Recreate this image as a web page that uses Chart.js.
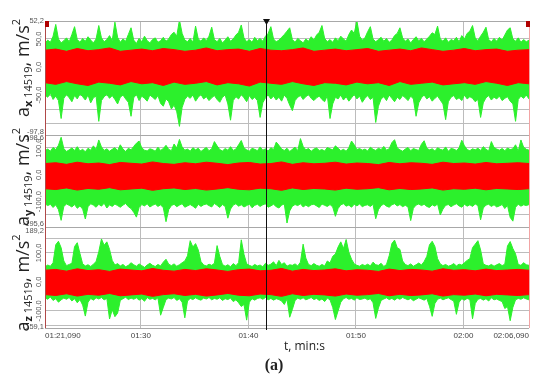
<!DOCTYPE html>
<html>
<head>
<meta charset="utf-8">
<script src="https://cdn.jsdelivr.net/npm/chart.js@4.4.1/dist/chart.umd.min.js"></script>
<style>
  html, body { margin: 0; padding: 0; background: #fff; }
  #wrap { position: relative; width: 550px; height: 382px; }
  #wrap canvas { position: absolute; left: 0; top: 0; }
</style>
</head>
<body>
<div id="wrap">
  <canvas id="c0" width="550" height="382"></canvas>
  <canvas id="c1" width="550" height="382"></canvas>
  <canvas id="c2" width="550" height="382"></canvas>
</div>
<script>
// time span of the record, seconds (01:21,090 .. 02:06,090)
const tStart = 81.09;
const tEnd = 126.09;
const timeTicks = [81.09, 90, 100, 110, 120, 126.09];
const cursorTime = 101.62;

// envelopes, m/s^2 (green = raw signal, red = filtered)
const axGreenHi = [42, 48, 44, 55, 76, 50, 43, 47, 52, 45, 58, 72, 49, 44, 51, 46, 54, 48, 43, 50,
  74, 52, 45, 49, 56, 47, 80, 53, 44, 50, 46, 58, 70, 48, 42, 51, 45, 55, 47, 43,
  49, 52, 44, 47, 53, 46, 50, 58, 62, 55, 84, 60, 48, 45, 51, 44, 73, 50, 46, 52,
  47, 55, 71, 49, 45, 51, 43, 48, 54, 46, 50, 57, 62, 75, 52, 45, 49, 44, 53, 47,
  51, 46, 55, 60, 72, 50, 45, 48, 53, 58, 64, 70, 49, 44, 51, 47, 43, 50, 46, 54,
  48, 57, 62, 74, 51, 45, 49, 44, 52, 47, 55, 50, 46, 58, 66, 60, 82, 55, 48, 52,
  63, 72, 50, 45, 49, 53, 46, 51, 44, 48, 56, 60, 70, 52, 46, 50, 43, 49, 54, 47,
  51, 45, 50, 55, 61, 58, 73, 50, 46, 52, 44, 49, 47, 53, 45, 56, 50, 60, 64, 74,
  52, 47, 55, 62, 71, 49, 45, 51, 46, 53, 48, 57, 66, 70, 50, 46, 52, 44, 49, 45, 48];
const axGreenLo = [-50, -54, -47, -58, -52, -60, -92, -56, -49, -55, -62, -51, -57, -48, -53, -59, -50, -64, -55, -52,
  -97, -60, -53, -49, -56, -51, -58, -66, -54, -50, -57, -63, -88, -55, -49, -60, -52, -56, -61, -50,
  -54, -58, -51, -65, -70, -57, -62, -75, -68, -80, -106, -72, -58, -52, -56, -50, -61, -54, -49, -57,
  -53, -60, -55, -51, -58, -63, -54, -50, -66, -95, -60, -53, -57, -49, -55, -62, -51, -58, -54, -60,
  -90, -64, -55, -50, -57, -52, -59, -54, -61, -50, -56, -68, -78, -60, -54, -51, -58, -53, -49, -56,
  -60, -55, -52, -58, -62, -51, -92, -66, -54, -57, -50, -59, -53, -61, -55, -49, -57, -52, -63, -56,
  -51, -58, -54, -99, -70, -57, -53, -60, -50, -56, -62, -54, -58, -51, -55, -60, -52, -57, -88, -64,
  -55, -50, -57, -53, -61, -56, -52, -59, -66, -94, -62, -54, -51, -58, -55, -60, -50, -57, -53, -56,
  -62, -58, -90, -64, -55, -51, -59, -54, -57, -52, -60, -56, -53, -61, -66, -97, -58, -52, -56, -50, -57];
const axRedHi = [30, 32, 28, 33, 29, 31, 34, 28, 30, 32, 29, 33, 31, 28, 30, 34, 29, 31, 32, 28,
  33, 30, 29, 31, 34, 28, 30, 32, 29, 31, 33, 28, 30, 32, 29, 34, 31, 28, 30, 33,
  29, 31, 32, 28, 30, 31];
const axRedLo = [-28, -31, -26, -30, -33, -27, -29, -32, -26, -30, -28, -33, -27, -31, -29, -26, -32, -28, -30, -34,
  -27, -29, -31, -26, -30, -33, -28, -29, -32, -27, -30, -28, -33, -26, -31, -29, -27, -32, -30, -28,
  -31, -26, -29, -33, -28, -30];

const ayGreenHi = [90, 96, 88, 102, 94, 110, 140, 98, 87, 93, 100, 91, 105, 89, 95, 86, 99, 92, 108, 94,
  130, 104, 91, 97, 88, 95, 101, 90, 112, 96, 87, 99, 93, 106, 118, 126, 100, 92, 89, 97,
  94, 88, 103, 91, 98, 110, 95, 90, 115, 100, 132, 104, 92, 96, 88, 101, 93, 99, 87, 95,
  102, 90, 97, 124, 108, 94, 89, 98, 92, 105, 91, 96, 112, 128, 100, 93, 88, 99, 95, 90,
  104, 92, 97, 89, 101, 94, 122, 110, 96, 91, 99, 87, 95, 103, 90, 135, 106, 93, 98, 88,
  96, 100, 91, 94, 89, 102, 97, 93, 108, 99, 90, 95, 88, 101, 126, 112, 94, 98, 92, 96,
  89, 103, 95, 91, 99, 94, 106, 92, 97, 120, 131, 100, 93, 88, 96, 102, 90, 98, 94, 91,
  114, 127, 99, 93, 97, 89, 101, 95, 92, 104, 88, 98, 96, 91, 100, 129, 108, 94, 90, 97,
  93, 99, 91, 105, 95, 89, 124, 102, 96, 92, 98, 90, 100, 94, 97, 112, 88, 130, 103, 95, 92];
const ayGreenLo = [-108, -115, -110, -122, -112, -130, -170, -118, -109, -114, -120, -111, -125, -116, -128, -165, -119, -108, -113, -121,
  -110, -117, -106, -124, -112, -118, -109, -115, -121, -113, -107, -119, -126, -140, -158, -122, -111, -116, -108, -120,
  -114, -109, -118, -112, -123, -175, -130, -115, -110, -119, -113, -108, -121, -116, -111, -117, -125, -110, -118, -112,
  -109, -115, -120, -107, -114, -122, -111, -118, -162, -128, -113, -108, -117, -112, -120, -115, -109, -123, -114, -110,
  -118, -112, -108, -121, -116, -110, -119, -124, -113, -109, -180, -135, -117, -111, -115, -108, -120, -113, -119, -112,
  -110, -116, -122, -109, -114, -118, -111, -120, -155, -126, -112, -108, -117, -113, -121, -110, -116, -109, -119, -114,
  -112, -118, -110, -164, -130, -115, -109, -117, -121, -112, -108, -116, -111, -119, -114, -120, -171, -125, -113, -109,
  -115, -110, -118, -122, -112, -117, -109, -150, -128, -114, -111, -119, -113, -108, -116, -121, -110, -117, -112, -118,
  -109, -115, -168, -124, -113, -110, -118, -112, -120, -116, -111, -126, -114, -159, -173, -121, -110, -117, -112, -115, -111];
const ayRedHi = [42, 45, 39, 47, 41, 44, 38, 46, 43, 40, 48, 42, 39, 45, 41, 47, 43, 38, 44, 46,
  40, 42, 48, 39, 45, 41, 43, 47, 40, 44, 42, 38, 46, 41, 45, 43, 39, 47, 42, 44,
  40, 46, 41, 43, 45, 42];
const ayRedLo = [-52, -55, -49, -57, -51, -54, -48, -56, -53, -50, -58, -52, -49, -55, -51, -57, -53, -48, -54, -56,
  -50, -52, -58, -49, -55, -51, -53, -57, -50, -54, -52, -48, -56, -51, -55, -53, -49, -57, -52, -54,
  -50, -56, -51, -53, -55, -52];

const azGreenHi = [52, 58, 54, 66, 128, 140, 118, 72, 56, 60, 64, 122, 135, 98, 62, 55, 59, 53, 61, 70,
  104, 148, 126, 138, 112, 74, 58, 63, 55, 60, 52, 57, 66, 59, 54, 62, 56, 50, 58, 64,
  57, 53, 60, 55, 68, 78, 61, 56, 62, 54, 59, 66, 72, 90, 142, 120, 132, 110, 70, 58,
  55, 61, 57, 64, 125, 88, 60, 54, 59, 52, 63, 56, 66, 145, 95, 62, 57, 53, 60, 55,
  58, 52, 64, 57, 61, 69, 56, 74, 60, 66, 54, 59, 57, 62, 55, 68, 130, 82, 60, 56,
  63, 57, 54, 60, 55, 72, 65, 88, 96, 120, 138, 115, 146, 102, 78, 62, 57, 54, 60, 56,
  61, 55, 68, 59, 57, 64, 53, 60, 90, 132, 144, 118, 112, 72, 60, 56, 62, 54, 59, 65,
  58, 70, 88, 128, 140, 122, 80, 62, 56, 60, 54, 57, 63, 55, 61, 58, 66, 74, 80, 118,
  130, 142, 110, 62, 57, 55, 60, 54, 59, 63, 56, 61, 124, 139, 115, 96, 60, 57, 66, 59, 57];
const azGreenLo = [-55, -60, -52, -64, -58, -70, -62, -56, -60, -54, -66, -58, -72, -61, -80, -118, -70, -57, -63, -55,
  -59, -54, -62, -57, -128, -96, -120, -108, -64, -58, -53, -61, -56, -60, -55, -63, -58, -67, -54, -60,
  -57, -62, -55, -115, -88, -61, -56, -59, -54, -64, -58, -70, -124, -66, -57, -61, -55, -60, -63, -56,
  -59, -54, -62, -57, -60, -55, -64, -58, -61, -56, -68, -62, -72, -85, -78, -132, -70, -58, -63, -57,
  -55, -60, -54, -62, -57, -63, -58, -61, -66, -78, -59, -122, -95, -64, -56, -60, -55, -62, -58, -54,
  -61, -57, -64, -59, -68, -56, -62, -88, -130, -100, -70, -58, -54, -60, -57, -63, -55, -61, -59, -56,
  -62, -58, -72, -126, -90, -64, -59, -55, -61, -57, -63, -56, -60, -54, -58, -62, -57, -65, -60, -55,
  -59, -63, -57, -84, -119, -75, -60, -56, -62, -58, -55, -61, -66, -112, -70, -58, -63, -57, -61, -127,
  -75, -60, -57, -63, -58, -66, -55, -62, -59, -64, -68, -92, -85, -134, -88, -62, -57, -60, -55, -59, -62];
const azRedHi = [40, 43, 37, 45, 39, 42, 36, 44, 41, 38, 46, 40, 37, 43, 39, 45, 41, 36, 42, 44,
  38, 40, 46, 37, 43, 39, 41, 45, 38, 42, 40, 36, 44, 39, 43, 41, 37, 45, 40, 42,
  38, 44, 39, 41, 43, 40];
const azRedLo = [-44, -47, -41, -49, -43, -46, -40, -48, -45, -42, -50, -44, -41, -47, -43, -49, -45, -40, -46, -48,
  -42, -44, -50, -41, -47, -43, -45, -49, -42, -46, -44, -40, -48, -43, -47, -45, -41, -49, -44, -46,
  -42, -48, -43, -45, -47, -44];

// y grid and labels per panel
const axGrid = [50, 25, 0, -25, -50, -75, -100];
const ayGrid = [100, 50, 0, -50, -100, -150];
const azGrid = [150, 100, 50, 0, -50, -100, -150];
const axLabelTicks = [50, 0, -50];
const ayLabelTicks = [100, 0, -100];
const azLabelTicks = [100, 0, -100];
const axEnds = ['52,2', '-97,8'];
const ayEnds = ['198,6', '-195,6'];
const azEnds = ['189,2', '-159,1'];

const GREEN = '#2cf02c';
const RED = '#ff0000';
const GRID = '#bcbcbc';
const W = 550, H = 382;

const panels = [
  { sub: 'x', hi: axGreenHi, lo: axGreenLo, rHi: axRedHi, rLo: axRedLo, min: -121.4, max: 82.1,
    grid: axGrid, labels: axLabelTicks, ends: axEnds, top: 21, bottom: 135, endY: [20.5, 131.5], titleY: 68 },
  { sub: 'y', hi: ayGreenHi, lo: ayGreenLo, rHi: ayRedHi, rLo: ayRedLo, min: -194.8, max: 148.5,
    grid: ayGrid, labels: ayLabelTicks, ends: ayEnds, top: 135, bottom: 227, endY: [138, 224], titleY: 177 },
  { sub: 'z', hi: azGreenHi, lo: azGreenLo, rHi: azRedHi, rLo: azRedLo, min: -159.1, max: 189.2,
    grid: azGrid, labels: azLabelTicks, ends: azEnds, top: 227, bottom: 328, endY: [230.5, 326.5], titleY: 283 }
];

function toPoints(arr) {
  const step = (tEnd - tStart) / (arr.length - 1);
  return arr.map((v, i) => ({ x: tStart + i * step, y: v }));
}

function fmtTime(v) {
  const m = Math.floor(v / 60);
  const s = v - m * 60;
  const whole = Math.floor(s + 1e-6);
  const ms = Math.round((s - whole) * 1000);
  const pad = n => String(n).padStart(2, '0');
  return pad(m) + ':' + pad(whole) + (ms ? ',' + String(ms).padStart(3, '0') : '');
}

function fmtVal(v) {
  return v.toFixed(1).replace('.', ',');
}

function drawYTitle(ctx, sub, cx, cy) {
  const parts = [
    { t: 'a', f: '18px "Open Sans"', dy: 0 },
    { t: sub, f: 'bold 11px "Open Sans"', dy: 3 },
    { t: ' 14519', f: '11px "Open Sans"', dy: 3 },
    { t: ', m/s', f: '18px "Open Sans"', dy: 0 },
    { t: '2', f: '11px "Open Sans"', dy: -9 }
  ];
  let total = 0;
  parts.forEach(p => { ctx.font = p.f; p.w = ctx.measureText(p.t).width; total += p.w; });
  ctx.save();
  ctx.translate(cx, cy);
  ctx.rotate(-Math.PI / 2);
  ctx.fillStyle = '#222';
  ctx.textBaseline = 'alphabetic';
  ctx.textAlign = 'left';
  let x = -total / 2;
  parts.forEach(p => { ctx.font = p.f; ctx.fillText(p.t, x, p.dy); x += p.w; });
  ctx.restore();
}

function overlay(k) {
  const p = panels[k];
  const last = k === panels.length - 1;
  return {
    id: 'overlay' + k,
    afterDraw(chart) {
      const ctx = chart.ctx;
      const area = chart.chartArea;
      const xs = chart.scales.x, ys = chart.scales.y;
      ctx.save();
      // frame
      ctx.lineWidth = 1;
      ctx.strokeStyle = '#a8a8a8';
      ctx.beginPath();
      ctx.moveTo(area.left, area.top + 0.5);
      ctx.lineTo(area.right, area.top + 0.5);
      if (last) {
        ctx.moveTo(area.left, area.bottom + 0.5);
        ctx.lineTo(area.right, area.bottom + 0.5);
      }
      ctx.stroke();
      ctx.strokeStyle = '#b04848';
      ctx.beginPath();
      ctx.moveTo(area.left + 0.5, area.top);
      ctx.lineTo(area.left + 0.5, area.bottom);
      ctx.stroke();
      ctx.strokeStyle = '#f2a4a4';
      ctx.beginPath();
      ctx.moveTo(area.right + 0.5, area.top);
      ctx.lineTo(area.right + 0.5, area.bottom);
      ctx.stroke();

      // cursor
      const cx = Math.round(xs.getPixelForValue(cursorTime)) + 0.5;
      ctx.strokeStyle = '#111';
      ctx.beginPath();
      ctx.moveTo(cx, area.top);
      ctx.lineTo(cx, area.bottom + (last ? 2 : 0));
      ctx.stroke();
      if (k === 0) {
        ctx.fillStyle = '#111';
        ctx.beginPath();
        ctx.moveTo(cx - 3.5, area.top - 2);
        ctx.lineTo(cx + 3.5, area.top - 2);
        ctx.lineTo(cx, area.top + 4);
        ctx.closePath();
        ctx.fill();
        ctx.fillStyle = '#b00000';
        ctx.fillRect(area.left, area.top, 4, 6);
        ctx.fillRect(area.right - 3, area.top, 4, 6);
      }

      // rotated tick labels
      ctx.fillStyle = '#555';
      ctx.font = '7.5px "Liberation Sans"';
      ctx.textAlign = 'center';
      ctx.textBaseline = 'middle';
      p.labels.forEach(v => {
        ctx.save();
        ctx.translate(38.5, ys.getPixelForValue(v));
        ctx.rotate(-Math.PI / 2);
        ctx.fillText(fmtVal(v), 0, 0);
        ctx.restore();
      });
      // extreme values
      ctx.textAlign = 'right';
      ctx.fillText(p.ends[0], 44, p.endY[0]);
      ctx.fillText(p.ends[1], 44, p.endY[1]);

      drawYTitle(ctx, p.sub, 29, p.titleY);

      if (last) {
        ctx.fillStyle = '#222';
        ctx.textAlign = 'left';
        ctx.textBaseline = 'middle';
        ctx.font = '12px "Open Sans"';
        ctx.fillText('t, min:s', 284, 347);
        ctx.textAlign = 'center';
        ctx.font = 'bold 16px "Liberation Serif"';
        ctx.fillText('(a)', 274, 366);
      }
      ctx.restore();
    }
  };
}

panels.forEach((p, k) => {
  const last = k === panels.length - 1;
  const line = (arr, color, fill) => ({
    data: toPoints(arr),
    borderColor: color,
    backgroundColor: color,
    borderWidth: 1,
    pointRadius: 0,
    fill: fill
  });
  new Chart(document.getElementById('c' + k), {
    type: 'line',
    data: {
      datasets: [
        line(p.rLo, RED, false),
        line(p.rHi, RED, '-1'),
        line(p.lo, GREEN, false),
        line(p.hi, GREEN, '-1')
      ]
    },
    options: {
      responsive: false,
      animation: false,
      events: [],
      layout: { padding: { left: 45, right: W - 529, top: p.top, bottom: last ? 0 : H - p.bottom } },
      plugins: { legend: { display: false }, tooltip: { enabled: false } },
      scales: {
        x: {
          type: 'linear',
          min: tStart,
          max: tEnd,
          afterBuildTicks: s => { s.ticks = timeTicks.map(v => ({ value: v })); },
          afterFit: s => { s.height = last ? H - p.bottom : 0; },
          grid: { color: GRID, drawTicks: false },
          border: { display: false },
          ticks: {
            display: last,
            align: 'inner',
            autoSkip: false,
            maxRotation: 0,
            padding: 3,
            color: '#444',
            font: { family: 'Liberation Sans', size: 8 },
            callback: v => fmtTime(v)
          }
        },
        y: {
          type: 'linear',
          min: p.min,
          max: p.max,
          afterBuildTicks: s => { s.ticks = p.grid.map(v => ({ value: v })); },
          afterFit: s => { s.width = 0; },
          grid: { color: GRID, drawTicks: false },
          border: { display: false },
          ticks: { display: false }
        }
      }
    },
    plugins: [overlay(k)]
  });
});
</script>
</body>
</html>
